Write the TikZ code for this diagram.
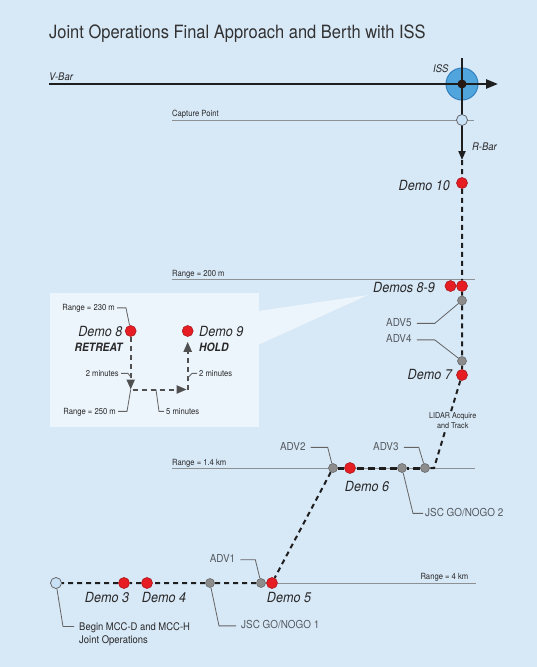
\documentclass[tikz,border=0pt]{standalone}
\usepackage{fontspec}
\setmainfont{TeX Gyre Heros}[FakeStretch=0.9]
\usepackage{tikz}
\usetikzlibrary{arrows.meta, positioning}

\definecolor{bgblue}{RGB}{215,232,247}
\definecolor{insetblue}{RGB}{236,244,252}
\definecolor{issblue}{RGB}{80,165,220}
\definecolor{issring}{RGB}{50,128,190}
\definecolor{issdot}{RGB}{40,24,20}
\definecolor{demored}{RGB}{230,30,36}
\definecolor{demoredline}{RGB}{170,25,30}
\definecolor{advgray}{RGB}{140,140,140}
\definecolor{advgrayline}{RGB}{105,105,105}
\definecolor{capblue}{RGB}{200,225,245}
\definecolor{rangegray}{RGB}{140,145,150}
\definecolor{leadergray}{RGB}{100,100,100}
\definecolor{axisdark}{RGB}{30,30,30}
\definecolor{trackdark}{RGB}{30,30,30}
\definecolor{flowgray}{RGB}{80,80,80}
\definecolor{labeltext}{RGB}{40,40,40}
\definecolor{advtext}{RGB}{85,90,95}
\definecolor{titletext}{RGB}{50,50,50}

\pgfdeclarelayer{bg}
\pgfdeclarelayer{lines}
\pgfsetlayers{bg,lines,main}

\begin{document}
\begin{tikzpicture}[x=1pt, y=-1pt,
  demo/.style={circle, fill=demored, draw=demoredline, line width=0.6pt,
               minimum size=11pt, inner sep=0pt},
  adv/.style={circle, fill=advgray, draw=advgrayline, line width=0.6pt,
              minimum size=9pt, inner sep=0pt},
  opendot/.style={circle, fill=capblue, draw=black!65, line width=0.7pt,
                  minimum size=11pt, inner sep=0pt},
  demolbl/.style={inner sep=0pt, text=labeltext, font=\fontsize{14}{16}\selectfont\itshape},
  boldlbl/.style={inner sep=0pt, text=labeltext, font=\fontsize{11.5}{13}\selectfont\bfseries\itshape},
  advlbl/.style={inner sep=0pt, text=advtext, font=\fontsize{11}{13}\selectfont},
  notelbl/.style={inner sep=0pt, text=labeltext, font=\fontsize{10.5}{13}\selectfont},
  smalllbl/.style={inner sep=0pt, text=labeltext, font=\fontsize{8.5}{10}\selectfont},
  axislbl/.style={inner sep=0pt, text=labeltext, font=\fontsize{10.5}{12}\selectfont\itshape},
  rangeline/.style={draw=rangegray, line width=0.8pt},
  leader/.style={draw=leadergray, line width=0.8pt},
  axis/.style={draw=axisdark, line width=2.4pt, -{Triangle[length=12pt, width=9pt]}},
  raxis/.style={draw=axisdark, line width=2pt, -{Triangle[length=9pt, width=7pt]}},
  track/.style={draw=trackdark, line width=2pt, dash pattern=on 5pt off 4pt},
  trackbold/.style={draw=trackdark, line width=3pt, dash pattern=on 7pt off 4pt},
  flow/.style={draw=flowgray, line width=2pt, dash pattern=on 5pt off 4pt,
               -{Triangle[length=10pt, width=8pt]}}
]

\begin{pgfonlayer}{bg}
  \fill[bgblue] (0,0) rectangle (537,667);
  \fill[insetblue] (50,292.5) rectangle (259,427);
  \fill[insetblue] (258,311) -- (368,295) -- (258,345) -- cycle;
  \node[circle, fill=issblue, draw=issring, line width=1pt, minimum size=32pt,
        inner sep=0pt] (iss) at (462,84) {};
\end{pgfonlayer}

\node[anchor=base west, inner sep=0pt, text=titletext,
      font=\fontsize{18.3}{20}\selectfont] (title) at (49,38)
      {Joint Operations Final Approach and Berth with ISS};

% axes
\coordinate (vbarL) at (49,84);
\coordinate (vbarR) at (498,84);
\coordinate (rbarT) at (462,58);
\coordinate (rbarB) at (462,160);
\node[circle, fill=issdot, minimum size=9pt, inner sep=0pt] (isscore) at (iss) {};
\node[opendot] (cap) at (462,120) {};
\node[axislbl, anchor=base west] (vbarlbl) at (49,80.5) {V-Bar};
\node[axislbl, anchor=base west] (isslbl) at (433,72.5) {ISS};
\node[axislbl, anchor=base west] (rbarlbl) at (472,150) {R-Bar};

% approach points
\node[demo] (d10) at (462,183) {};
\node[demo] (d8m) at (450.5,286) {};
\node[demo] (d9m) at (462,286) {};
\node[adv] (adv5) at (462,300.5) {};
\node[adv] (adv4) at (462,361) {};
\node[demo] (d7) at (462,375) {};
\coordinate (bend) at (434,468);
\node[adv] (adv3) at (425,468) {};
\node[adv] (jsc2) at (402,468) {};
\node[demo] (d6) at (350,468) {};
\node[adv] (adv2) at (333,468) {};
\node[demo] (d5) at (272,583) {};
\node[adv] (adv1) at (261,583) {};
\node[adv] (jsc1) at (210,583) {};
\node[demo] (d4) at (147,583) {};
\node[demo] (d3) at (124,583) {};
\node[opendot] (start) at (56,583) {};

% range labels
\node[smalllbl, anchor=base west] (caplbl) at (172,116.5) {Capture Point};
\node[smalllbl, anchor=base west] (r200) at (172,276) {Range = 200 m};
\node[smalllbl, anchor=base west] (r14) at (172,465) {Range = 1.4 km};
\node[smalllbl, anchor=base east] (r4) at (468.5,579) {Range = 4 km};
\node[smalllbl, align=center, fill=bgblue, inner sep=1pt,
      font=\fontsize{8}{10}\selectfont] (lidar) at (452.7,421) {LIDAR Acquire\\and Track};

% demo labels
\node[demolbl, anchor=base east] (d10lbl) at (450,190) {Demo 10};
\node[demolbl, anchor=base east] (d89lbl) at (435,292) {Demos 8-9};
\node[demolbl, anchor=base east] (d7lbl) at (452,379.5) {Demo 7};
\node[demolbl, anchor=base] (d6lbl) at (367,491) {Demo 6};
\node[demolbl, anchor=base] (d5lbl) at (289,602.5) {Demo 5};
\node[demolbl, anchor=base] (d4lbl) at (164,602.5) {Demo 4};
\node[demolbl, anchor=base] (d3lbl) at (107,602.5) {Demo 3};

\node[advlbl, anchor=base west] (adv5lbl) at (386,326) {ADV5};
\node[advlbl, anchor=base west] (adv4lbl) at (386,342.5) {ADV4};
\node[advlbl, anchor=base east] (adv2lbl) at (305.7,450) {ADV2};
\node[advlbl, anchor=base west] (adv3lbl) at (373,450) {ADV3};
\node[advlbl, anchor=base west] (adv1lbl) at (209.6,562.4) {ADV1};
\node[advlbl, anchor=base west] (jsc2lbl) at (425,516) {JSC GO/NOGO 2};
\node[advlbl, anchor=base west] (jsc1lbl) at (241,628.5) {JSC GO/NOGO 1};
\node[notelbl, anchor=north west, align=left] (beginlbl) at (79,622)
      {Begin MCC-D and MCC-H\\Joint Operations};

% inset
\node[demo] (d8) at (130.7,331) {};
\node[demo] (d9) at (187.7,331) {};
\coordinate (turnA) at (130.7,389.5);
\coordinate (turnB) at (187.7,389.5);
\coordinate (d8tick) at (130.7,377);
\coordinate (d9tick) at (187.7,378);
\coordinate (m5tick) at (156,389.5);
\node[demolbl, anchor=base east] (d8lbl) at (122.7,336.5) {Demo 8};
\node[boldlbl, anchor=base east] (retreat) at (122.7,351.7) {RETREAT};
\node[demolbl, anchor=base west] (d9lbl) at (199,336) {Demo 9};
\node[boldlbl, anchor=base west] (hold) at (199,351.7) {HOLD};
\node[smalllbl, anchor=base east] (r230) at (115,310.5) {Range = 230 m};
\node[smalllbl, anchor=base east] (r250) at (116,414) {Range = 250 m};
\node[smalllbl, anchor=base east] (min2a) at (119,376) {2 minutes};
\node[smalllbl, anchor=base west] (min2b) at (199,376) {2 minutes};
\node[smalllbl, anchor=base west] (min5) at (166,414) {5 minutes};

\begin{pgfonlayer}{lines}
  \draw[rangeline] (172,120) -- (474,120);
  \draw[rangeline] (172,279) -- (475,279);
  \draw[rangeline] (172,468) -- (475,468);
  \draw[rangeline] (d5) -- (476,583);

  \draw[axis] (vbarL) -- (vbarR);
  \draw[raxis] (rbarT) -- (rbarB);

  \draw[track] (rbarB) -- (d10) -- (d9m) -- (adv5) -- (adv4) -- (d7) -- (bend) -- (adv3);
  \draw[trackbold] (adv3) -- (jsc2) -- (d6) -- (adv2);
  \draw[track] (adv2) -- (d5) -- (adv1) -- (jsc1) -- (d4) -- (d3) -- (start);

  \draw[leader] ([xshift=5pt]adv5lbl.mid east) -- ++(18,0) -- (adv5);
  \draw[leader] ([xshift=5pt]adv4lbl.mid east) -- ++(18,0) -- (adv4);
  \draw[leader] ([xshift=5pt]adv2lbl.mid east) -- ++(17,0) -- (adv2);
  \draw[leader] ([xshift=5pt]adv3lbl.mid east) -- ++(15,0) -- (adv3);
  \draw[leader] ([xshift=5pt]adv1lbl.mid east) -- ++(15,0) -- (adv1);
  \draw[leader] (jsc2) -- ([xshift=-12pt]jsc2lbl.mid west) -- ([xshift=-2pt]jsc2lbl.mid west);
  \draw[leader] (jsc1) -- ([xshift=-22pt]jsc1lbl.mid west) -- ([xshift=-5pt]jsc1lbl.mid west);
  \draw[leader] (start) -- ([xshift=-16pt, yshift=-4.5pt]beginlbl.north west)
                        -- ([xshift=-5pt, yshift=-4.5pt]beginlbl.north west);

  \draw[flow] (d8) -- (turnA);
  \draw[flow, shorten <=2pt, shorten >=1pt] (turnA) -- (turnB);
  \draw[flow, shorten >=5pt] (turnB) -- (d9);
  \draw[leader] ([xshift=2pt]r230.mid east) -- ++(9,0) -- (d8);
  \draw[leader] ([xshift=2pt]r250.mid east) -- ++(9,0) -- (turnA);
  \draw[leader] ([xshift=2pt]min2a.mid east) -- ++(7,0) -- (d8tick);
  \draw[leader] (d9tick) -- ([xshift=-7pt]min2b.mid west) -- ([xshift=-2pt]min2b.mid west);
  \draw[leader] (m5tick) -- ([xshift=-7pt]min5.mid west) -- ([xshift=-2pt]min5.mid west);
\end{pgfonlayer}

\end{tikzpicture}
\end{document}
